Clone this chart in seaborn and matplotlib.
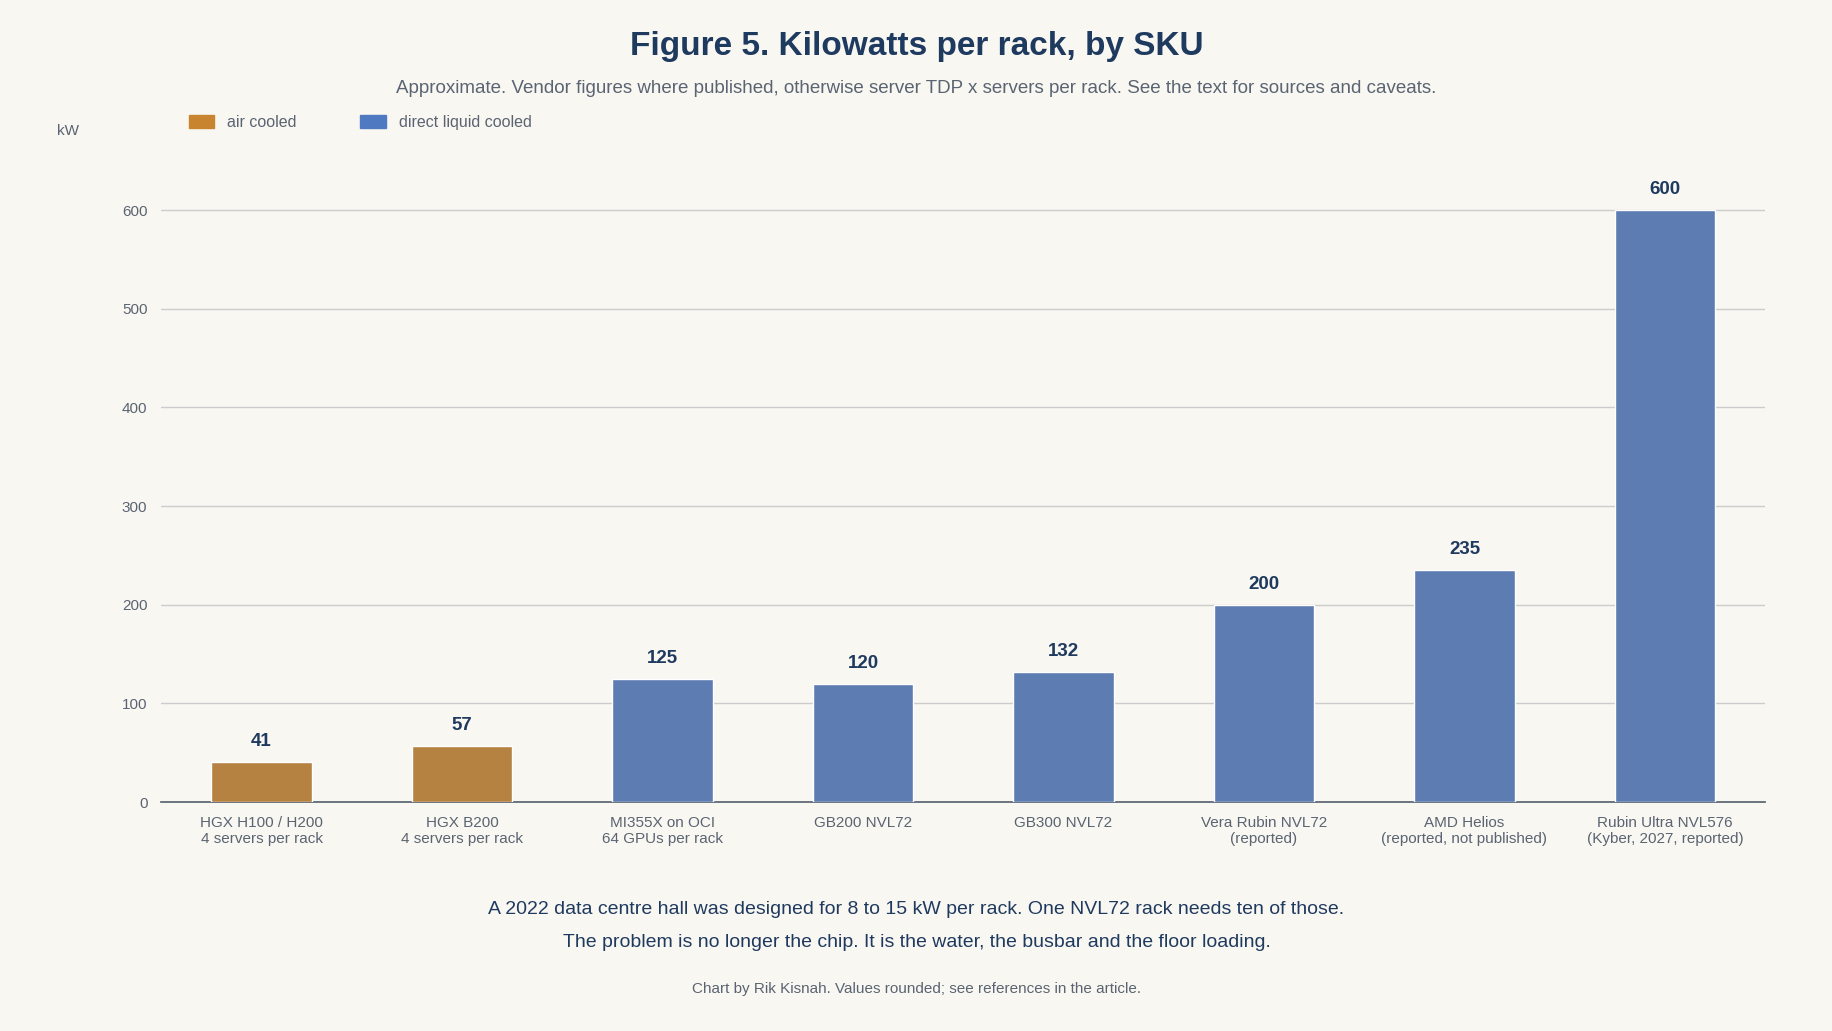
import matplotlib
matplotlib.use("Agg")
import matplotlib.pyplot as plt
import seaborn as sns
import pandas as pd
from matplotlib.patches import Patch

categories = ["HGX H100 / H200\n4 servers per rack", "HGX B200\n4 servers per rack",
              "MI355X on OCI\n64 GPUs per rack", "GB200 NVL72", "GB300 NVL72",
              "Vera Rubin NVL72\n(reported)", "AMD Helios\n(reported, not published)",
              "Rubin Ultra NVL576\n(Kyber, 2027, reported)"]
values = [41, 57, 125, 120, 132, 200, 235, 600]
cooling = ["air cooled", "air cooled", "direct liquid cooled", "direct liquid cooled",
           "direct liquid cooled", "direct liquid cooled", "direct liquid cooled",
           "direct liquid cooled"]
yticks = [0, 100, 200, 300, 400, 500, 600]

BG = "#F9F7F2"; NAVY = "#1F3A5F"; GREY = "#5A6472"
palette = {"air cooled": "#C8842F", "direct liquid cooled": "#4F79C0"}

sns.set_theme(style="white")
plt.rcParams["font.family"] = ["Liberation Sans", "DejaVu Sans"]

df = pd.DataFrame({"sku": categories, "kw": values, "cooling": cooling})
fig = plt.figure(figsize=(18.33, 10.31), dpi=100, facecolor=BG)
ax = fig.add_axes([0.088, 0.222, 0.875, 0.622], facecolor=BG)
sns.barplot(data=df, x="sku", y="kw", hue="cooling", palette=palette, dodge=False,
            width=0.5, legend=False, ax=ax, zorder=3)
ax.set_ylim(0, 650)
ax.set_xlim(-0.5, len(categories) - 0.5)
ax.set_yticks(yticks)
ax.yaxis.grid(True, color="#CCCCCC", linewidth=1, zorder=0)
for s in ["top", "right", "left"]:
    ax.spines[s].set_visible(False)
ax.spines["bottom"].set_color("#5A6472")
ax.tick_params(axis="both", length=0, labelsize=11, colors=GREY, pad=10)
ax.set_xlabel(""); ax.set_ylabel("")
for i, v in enumerate(values):
    ax.text(i, v + 12, str(v), ha="center", va="bottom", fontsize=13.5,
            fontweight="bold", color=NAVY)

fig.text(0.5, 0.955, "Figure 5. Kilowatts per rack, by SKU", ha="center", va="center",
         fontsize=24, fontweight="bold", color=NAVY)
fig.text(0.5, 0.914, "Approximate. Vendor figures where published, otherwise server TDP x servers per rack. See the text for sources and caveats.",
         ha="center", va="center", fontsize=13.5, color=GREY)
fig.text(0.031, 0.873, "kW", ha="left", va="center", fontsize=11, color=GREY)
handles = [Patch(color=palette[k], label=k) for k in palette]
fig.legend(handles=handles, loc="center left", bbox_to_anchor=(0.095, 0.881), ncol=2,
           frameon=False, fontsize=11.5, labelcolor=GREY, handlelength=1.6,
           handleheight=0.9, columnspacing=4)
fig.text(0.5, 0.118, "A 2022 data centre hall was designed for 8 to 15 kW per rack. One NVL72 rack needs ten of those.",
         ha="center", va="center", fontsize=14, color=NAVY)
fig.text(0.5, 0.086, "The problem is no longer the chip. It is the water, the busbar and the floor loading.",
         ha="center", va="center", fontsize=14, color=NAVY)
fig.text(0.5, 0.041, "Chart by Rik Kisnah. Values rounded; see references in the article.",
         ha="center", va="center", fontsize=11, color=GREY)
fig.savefig("out.png", dpi=100, facecolor=BG)
